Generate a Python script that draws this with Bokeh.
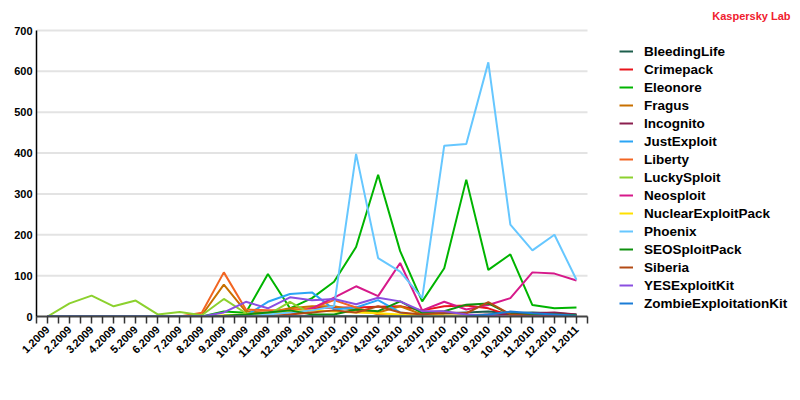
import math
from bokeh.plotting import figure
from bokeh.models import Range1d, FixedTicker, Legend, LegendItem, Label
from bokeh.embed import file_html
from bokeh.resources import INLINE

months = ["1.2009", "2.2009", "3.2009", "4.2009", "5.2009", "6.2009", "7.2009", "8.2009",
          "9.2009", "10.2009", "11.2009", "12.2009", "1.2010", "2.2010", "3.2010", "4.2010",
          "5.2010", "6.2010", "7.2010", "8.2010", "9.2010", "10.2010", "11.2010", "12.2010", "1.2011"]

bleedinglife = [0, 0, 0, 0, 0, 0, 0, 0, 0, 0, 0, 0, 0, 0, 0, 0, 0, 5, 8, 10, 12, 8, 10, 8, 5]
crimepack = [0, 0, 0, 0, 0, 0, 0, 0, 0, 0, 5, 15, 20, 22, 22, 24, 25, 15, 25, 27, 20, 2, 5, 5, 3]
eleonore = [0, 0, 0, 0, 0, 0, 0, 0, 12, 9, 104, 20, 45, 85, 170, 347, 160, 37, 118, 335, 114, 152, 28, 20, 22]
fragus = [0, 0, 0, 0, 0, 0, 0, 3, 78, 12, 10, 20, 25, 25, 15, 10, 25, 5, 3, 2, 0, 0, 0, 0, 0]
incognito = [0, 0, 0, 0, 0, 0, 0, 0, 0, 0, 0, 0, 0, 0, 0, 0, 0, 0, 0, 3, 5, 5, 8, 10, 5]
justexploit = [0, 0, 0, 0, 0, 0, 0, 0, 0, 2, 36, 55, 59, 17, 22, 40, 10, 0, 0, 0, 0, 0, 0, 0, 0]
liberty = [0, 0, 0, 0, 0, 0, 0, 9, 108, 17, 15, 15, 20, 40, 22, 5, 0, 0, 0, 0, 0, 0, 0, 0, 0]
luckysploit = [0, 32, 51, 25, 39, 5, 11, 3, 43, 8, 4, 36, 5, 0, 0, 0, 0, 0, 0, 0, 0, 0, 0, 0, 0]
neosploit = [0, 0, 0, 0, 0, 0, 0, 0, 0, 0, 0, 3, 20, 46, 74, 50, 131, 15, 36, 17, 28, 45, 108, 105, 88]
nuclear = [0, 0, 0, 0, 0, 0, 0, 0, 3, 5, 5, 12, 15, 12, 10, 8, 5, 3, 2, 2, 3, 0, 0, 0, 0]
phoenix = [0, 0, 0, 0, 0, 0, 0, 0, 0, 0, 5, 10, 15, 25, 398, 143, 110, 45, 418, 422, 622, 225, 162, 200, 90]
seosploit = [0, 0, 0, 0, 0, 0, 0, 0, 2, 5, 10, 15, 5, 5, 17, 13, 37, 9, 13, 29, 32, 5, 5, 5, 3]
siberia = [0, 0, 0, 0, 0, 0, 0, 0, 0, 0, 0, 5, 10, 15, 10, 25, 10, 5, 10, 8, 35, 5, 2, 2, 0]
yesexploit = [0, 0, 0, 0, 0, 0, 0, 0, 10, 36, 20, 47, 40, 43, 30, 46, 37, 13, 13, 5, 2, 0, 0, 0, 0]
zombie = [0, 0, 0, 0, 0, 0, 0, 0, 0, 0, 0, 0, 0, 0, 0, 0, 0, 0, 0, 0, 5, 12, 8, 5, 2]

series_names = ["BleedingLife", "Crimepack", "Eleonore", "Fragus", "Incognito", "JustExploit",
                "Liberty", "LuckySploit", "Neosploit", "NuclearExploitPack", "Phoenix",
                "SEOSploitPack", "Siberia", "YESExploitKit", "ZombieExploitationKit"]
series_values = [bleedinglife, crimepack, eleonore, fragus, incognito, justexploit, liberty,
                 luckysploit, neosploit, nuclear, phoenix, seosploit, siberia, yesexploit, zombie]
colors = ["#1D5E4C", "#E8141B", "#00B400", "#C87000", "#8B1F4F", "#2AA5F5", "#F26522",
          "#8CD12E", "#D6198A", "#FFE000", "#66C7FF", "#0E900E", "#B34A14", "#8A4FE0", "#1B7CD6"]
yticks = [0, 100, 200, 300, 400, 500, 600, 700]
brand_text = "Kaspersky Lab"

FONT = "Liberation Sans"

n = len(months)
# geometry (pixels): frame spans the whole width right of the y axis, so the legend and the
# brand text sit inside it; the plotting area itself is limited by axis/grid bounds.
LEFT, TOP, BOTTOM = 36, 7, 68
W, H = 792, 384
FRAME_W, FRAME_H = W - LEFT, H - TOP - BOTTOM
PX_PER_CAT = 22.04
PLOT_H = 286                     # height of the 0..700 band
x_end = -0.5 + FRAME_W / PX_PER_CAT
y_top = yticks[-1] * FRAME_H / PLOT_H

p = figure(width=W, height=H, output_backend="svg", toolbar_location=None,
           x_range=Range1d(-0.5, x_end), y_range=Range1d(0, y_top),
           min_border_left=LEFT, min_border_right=0, min_border_top=TOP, min_border_bottom=BOTTOM)
p.outline_line_color = None
p.background_fill_color = "white"
p.border_fill_color = "white"

# horizontal grid lines limited to the plotting band
p.xgrid.visible = False
p.ygrid.visible = False
p.segment(x0=-0.5, x1=n - 0.5, y0=yticks[1:], y1=yticks[1:], line_color="#E3E3E3", line_width=2)

xs = list(range(n))
items = []
for name, vals, col in zip(series_names, series_values, colors):
    r = p.line(xs, vals, line_color=col, line_width=2)
    items.append(LegendItem(label=name, renderers=[r]))

# x axis
p.xaxis.bounds = (-0.5, n - 0.5)
p.xaxis.ticker = FixedTicker(ticks=xs, minor_ticks=[i - 0.5 for i in range(n + 1)])
p.xaxis.major_label_overrides = {i: m for i, m in enumerate(months)}
p.xaxis.major_label_orientation = math.pi / 4
p.xaxis.major_label_text_font = FONT
p.xaxis.major_label_text_font_style = "bold"
p.xaxis.major_label_text_font_size = "11px"
p.xaxis.major_label_text_color = "#000000"
p.xaxis.axis_line_color = "#444444"
p.xaxis.axis_line_width = 2
p.xaxis.major_tick_line_color = "#333333"
p.xaxis.minor_tick_line_color = "#333333"
p.xaxis.major_tick_line_width = 1.5
p.xaxis.minor_tick_line_width = 1.5
p.xaxis.major_tick_out = 7
p.xaxis.minor_tick_out = 7
p.xaxis.major_tick_in = 0
p.xaxis.minor_tick_in = 0
p.xaxis.major_label_standoff = 4

# y axis
p.yaxis.bounds = (0, yticks[-1])
p.yaxis.ticker = FixedTicker(ticks=yticks)
p.yaxis.major_label_text_font = FONT
p.yaxis.major_label_text_font_style = "bold"
p.yaxis.major_label_text_font_size = "11px"
p.yaxis.major_label_text_color = "#000000"
p.yaxis.axis_line_color = "#000000"
p.yaxis.axis_line_width = 1.5
p.yaxis.major_tick_line_color = None
p.yaxis.minor_tick_line_color = None
p.yaxis.major_tick_out = 0
p.yaxis.major_tick_in = 0
p.yaxis.major_label_standoff = 4

# legend: location is its bottom-left corner, in pixels from the frame's bottom-left
legend = Legend(items=items, location=(583, 4), orientation="vertical",
                label_text_font=FONT, label_text_font_style="bold", label_text_font_size="13.5px",
                label_text_color="#000000", glyph_width=14, glyph_height=18, label_height=18,
                label_standoff=11, spacing=0, padding=0, margin=0,
                border_line_alpha=0, background_fill_alpha=0)
p.add_layout(legend, "center")

brand = Label(x=754, y=301, x_units="screen", y_units="screen", text=brand_text,
              text_font=FONT, text_font_style="bold", text_font_size="11px",
              text_color="#F0202E", text_align="right", text_baseline="middle")
p.add_layout(brand)

open("out.html", "w").write(file_html(p, INLINE))
